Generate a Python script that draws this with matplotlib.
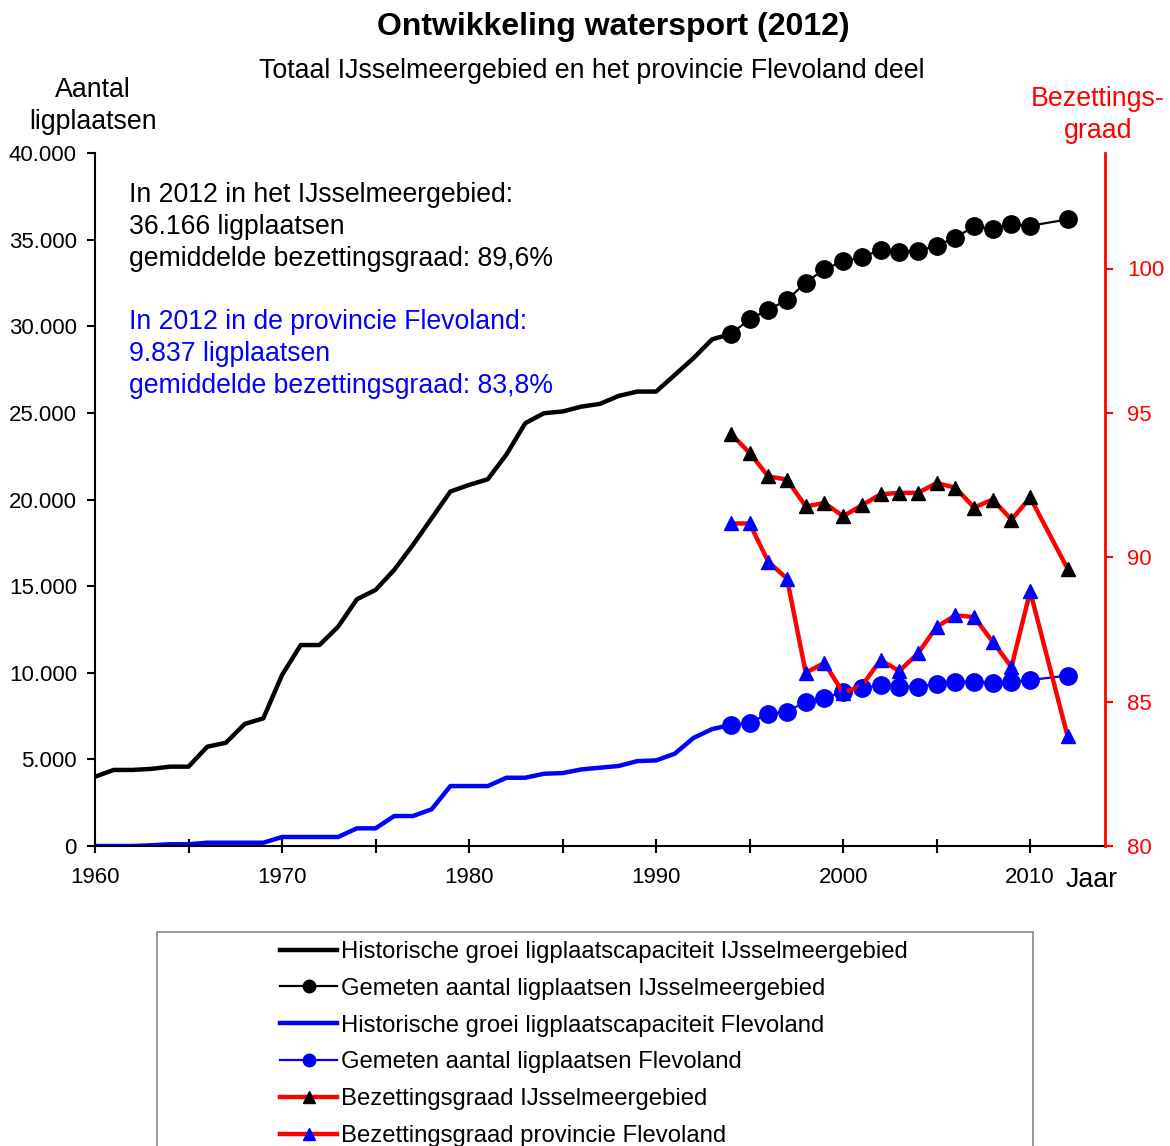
import matplotlib.pyplot as plt
import numpy as np
from matplotlib.lines import Line2D
from matplotlib.patches import Rectangle

plt.rcParams['font.family'] = ['Liberation Sans', 'DejaVu Sans']

# historische groei 1960-1994
hist_years = list(range(1960, 1995))
hist_ijssel = [4000, 4390, 4390, 4450, 4580, 4580, 5730, 5960, 7040, 7370,
               9870, 11600, 11600, 12660, 14240, 14780, 15940, 17380, 18920, 20460,
               20840, 21170, 22600, 24400, 24980, 25080, 25360, 25520, 25980, 26230,
               26230, 27190, 28160, 29250, 29550]
hist_flevo = [0, 0, 0, 40, 100, 100, 190, 190, 190, 190,
              520, 520, 520, 520, 1020, 1020, 1730, 1730, 2120, 3460,
              3460, 3460, 3940, 3940, 4170, 4210, 4420, 4520, 4620, 4900,
              4940, 5330, 6240, 6750, 6990]

# gemeten (geen meting in 2011)
meas_years = [1994, 1995, 1996, 1997, 1998, 1999, 2000, 2001, 2002, 2003,
              2004, 2005, 2006, 2007, 2008, 2009, 2010, 2012]
meas_ijssel = [29550, 30410, 30950, 31520, 32520, 33300, 33740, 33990, 34410, 34310,
               34350, 34640, 35120, 35760, 35610, 35900, 35800, 36166]
meas_flevo = [6990, 7120, 7620, 7760, 8330, 8530, 8910, 9100, 9300, 9200,
              9200, 9350, 9490, 9490, 9430, 9490, 9580, 9837]
bez_ijssel = [94.28, 93.61, 92.80, 92.69, 91.76, 91.88, 91.42, 91.80, 92.18, 92.23,
              92.23, 92.57, 92.41, 91.72, 92.00, 91.30, 92.07, 89.6]
bez_flevo = [91.17, 91.17, 89.84, 89.26, 86.00, 86.34, 85.30, 85.55, 86.44, 86.06,
             86.67, 87.59, 87.99, 87.93, 87.07, 86.20, 88.82, 83.8]

labels = ['Historische groei ligplaatscapaciteit IJsselmeergebied',
          'Gemeten aantal ligplaatsen IJsselmeergebied',
          'Historische groei ligplaatscapaciteit Flevoland',
          'Gemeten aantal ligplaatsen Flevoland',
          'Bezettingsgraad IJsselmeergebied',
          'Bezettingsgraad provincie Flevoland']

fig = plt.figure(figsize=(11.7, 11.46), dpi=100)
ax = fig.add_axes([95/1170, 1-846/1146, 1010/1170, 693/1146])

ax.plot(hist_years, hist_ijssel, color='black', lw=3.2)
ax.plot(hist_years, hist_flevo, color='blue', lw=3.2)
ax.plot(meas_years, meas_ijssel, color='black', lw=1.6, marker='o', ms=12.5)
ax.plot(meas_years, meas_flevo, color='blue', lw=1.6, marker='o', ms=12.5)

ax.set_xlim(1960, 2014)
ax.set_ylim(0, 40000)
ax.set_xticks(range(1960, 2015, 5))
ax.set_xticklabels(['1960', '', '1970', '', '1980', '', '1990', '', '2000', '', '2010'])
ax.set_yticks(range(0, 40001, 5000))
ax.set_yticklabels([f'{v:,}'.replace(',', '.') for v in range(0, 40001, 5000)])
ax.tick_params(axis='y', direction='out', length=6, width=1.5, labelsize=16, pad=7)
ax.tick_params(axis='x', direction='inout', length=10, width=1.5, labelsize=16, pad=10)
ax.spines['top'].set_visible(False)
ax.spines['right'].set_visible(False)
ax.spines['left'].set_linewidth(1.5)
ax.spines['bottom'].set_linewidth(1.5)

ax2 = ax.twinx()
ax2.plot(meas_years, bez_ijssel, color='red', lw=3.2, marker='^', ms=10,
         mfc='black', mec='black')
ax2.plot(meas_years, bez_flevo, color='red', lw=3.2, marker='^', ms=10,
         mfc='blue', mec='blue')
ax2.set_ylim(80, 104)
ax2.set_yticks([80, 85, 90, 95, 100])
ax2.tick_params(axis='y', direction='out', length=6, width=1.5, labelsize=16,
                pad=10, colors='red')
for s in ['top', 'left', 'bottom']:
    ax2.spines[s].set_visible(False)
ax2.spines['right'].set_color('red')
ax2.spines['right'].set_linewidth(2)

fig.text(613/1170, 1-27/1146, 'Ontwikkeling watersport (2012)', ha='center',
         va='center', fontsize=23, fontweight='bold')
fig.text(592/1170, 1-71/1146, 'Totaal IJsselmeergebied en het provincie Flevoland deel',
         ha='center', va='center', fontsize=19.3)
fig.text(93/1170, 1-106/1146, 'Aantal\nligplaatsen', ha='center', va='center',
         fontsize=19.3, linespacing=1.27)
fig.text(1098/1170, 1-115/1146, 'Bezettings-\ngraad', ha='center', va='center',
         fontsize=19.3, color='red', linespacing=1.27)
fig.text(1092/1170, 1-880/1146, 'Jaar', ha='center', va='center', fontsize=19.3)

fig.text(129/1170, 1-227/1146,
         'In 2012 in het IJsselmeergebied:\n36.166 ligplaatsen\ngemiddelde bezettingsgraad: 89,6%',
         ha='left', va='center', fontsize=19.2, linespacing=1.3)
fig.text(129/1170, 1-354/1146,
         'In 2012 in de provincie Flevoland:\n9.837 ligplaatsen\ngemiddelde bezettingsgraad: 83,8%',
         ha='left', va='center', fontsize=19.2, linespacing=1.3, color='blue')

# legenda in een kader dat onder de figuur doorloopt
fig.patches.append(Rectangle((157/1170, -0.05), 876/1170, 0.05 + 1-932/1146,
                             transform=fig.transFigure, fill=False,
                             edgecolor='#888888', lw=1.2))
handles = [
    Line2D([], [], color='black', lw=3.2),
    Line2D([], [], color='black', lw=1.6, marker='o', ms=9),
    Line2D([], [], color='blue', lw=3.2),
    Line2D([], [], color='blue', lw=1.6, marker='o', ms=9),
    Line2D([], [], color='red', lw=3.2, marker='^', ms=9, mfc='black', mec='black'),
    Line2D([], [], color='red', lw=3.2, marker='^', ms=9, mfc='blue', mec='blue'),
]
fig.legend(handles, labels, loc='upper left', bbox_to_anchor=(280/1170, 1-941/1146),
           frameon=False, handlelength=2.4, handletextpad=0.15,
           labelspacing=0.62, borderpad=0, borderaxespad=0, numpoints=1,
           prop={'family': ['Liberation Sans Narrow', 'Liberation Sans'], 'size': 17.2})

fig.savefig('out.png', dpi=100)
